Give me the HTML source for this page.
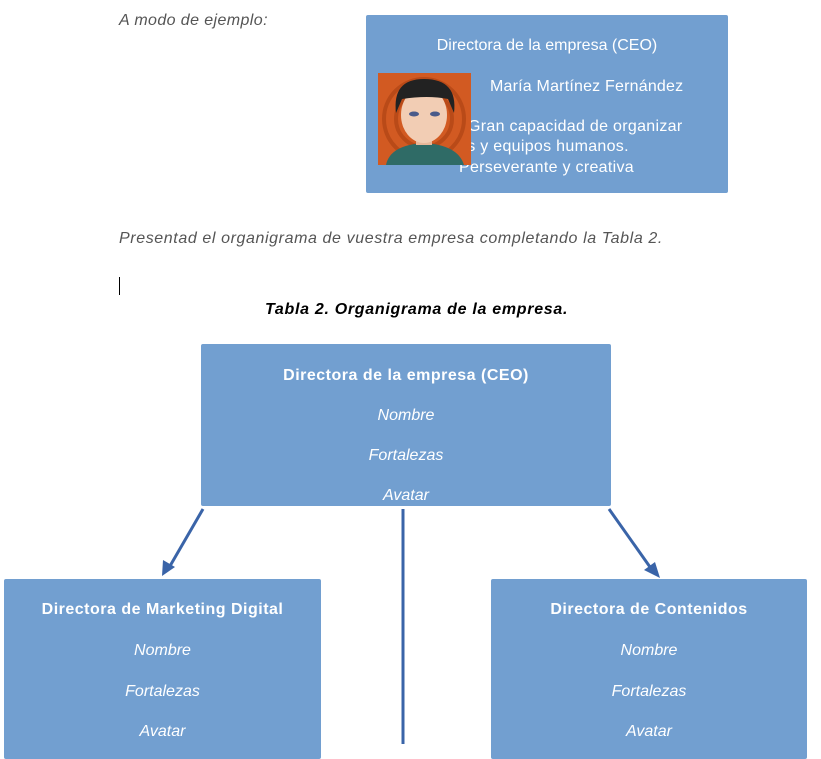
<!DOCTYPE html>
<html><head><meta charset="utf-8"><style>
body{margin:0;width:821px;height:744px;overflow:hidden;background:#fff;position:relative;font-family:"Liberation Sans",sans-serif}
.a{position:absolute;white-space:nowrap}
.box{position:absolute;background:#729fd0;border-radius:2px}
.w{color:#fff;font-size:16px;text-align:center;position:absolute;left:0;right:0}
.i{font-style:italic}
.b{font-weight:bold;letter-spacing:0.5px}
.g{color:#555;font-style:italic;font-size:16px;letter-spacing:0.4px}
</style></head><body>
<div class="a g" style="left:119px;top:12px">A modo de ejemplo:</div>
<div class="box" style="left:366px;top:15px;width:362px;height:178px">
 <div class="w" style="top:22px">Directora de la empresa (CEO)</div>
 <div class="a" style="color:#fff;font-size:16px;left:124px;top:63px;letter-spacing:0.2px">María Martínez Fernández</div>
 <div class="a" style="color:#fff;font-size:16px;left:102px;top:103px;letter-spacing:0.3px">Gran capacidad de organizar</div>
 <div class="a" style="color:#fff;font-size:16px;left:92px;top:123px;letter-spacing:0.3px">as y equipos humanos.</div>
 <div class="a" style="color:#fff;font-size:16px;left:93px;top:144px;letter-spacing:0.3px">Perseverante y creativa</div>
</div>
<svg class="a" style="left:378px;top:73px" width="93" height="92" viewBox="0 0 93 92">
 <rect width="93" height="92" fill="#d25a22"/>
 <circle cx="46" cy="46" r="40" fill="none" stroke="#b94a18" stroke-width="4"/>
 <circle cx="46" cy="46" r="28" fill="none" stroke="#b94a18" stroke-width="4"/>
 <path d="M8 92 Q12 72 46 70 Q80 72 86 92Z" fill="#2f6b66"/>
 <rect x="38" y="58" width="16" height="14" fill="#e8b89a"/>
 <ellipse cx="46" cy="42" rx="23" ry="28" fill="#f2cdb4"/>
 <path d="M18 40 Q14 6 46 6 Q80 6 76 40 L70 26 Q50 22 24 26Z" fill="#222"/>
 <ellipse cx="36" cy="41" rx="5" ry="2.5" fill="#4a5a8a"/>
 <ellipse cx="57" cy="41" rx="5" ry="2.5" fill="#4a5a8a"/>
</svg>
<div class="a g" style="left:119px;top:230px;letter-spacing:0.6px">Presentad el organigrama de vuestra empresa completando la Tabla 2.</div>
<div class="a" style="left:119px;top:277px;width:1px;height:18px;background:#000"></div>
<div class="a b i" style="left:265px;top:301px;font-size:16px;color:#000;letter-spacing:0.7px">Tabla 2. Organigrama de la empresa.</div>
<div class="box" style="left:201px;top:344px;width:410px;height:162px">
 <div class="w b" style="top:23px">Directora de la empresa (CEO)</div>
 <div class="w i" style="top:63px">Nombre</div>
 <div class="w i" style="top:103px">Fortalezas</div>
 <div class="w i" style="top:143px">Avatar</div>
</div>
<svg class="a" style="left:0;top:0" width="821" height="744">
 <line x1="203" y1="509" x2="170" y2="566" stroke="#3a64a8" stroke-width="3"/>
 <path d="M162 576 L163 560 L175 567Z" fill="#3a64a8"/>
 <line x1="609" y1="509" x2="650" y2="567" stroke="#3a64a8" stroke-width="3"/>
 <path d="M660 578 L644 570 L655 562Z" fill="#3a64a8"/>
 <line x1="403" y1="509" x2="403" y2="744" stroke="#3a64a8" stroke-width="3"/>
</svg>
<div class="box" style="left:4px;top:579px;width:317px;height:180px">
 <div class="w b" style="top:22px">Directora de Marketing Digital</div>
 <div class="w i" style="top:63px">Nombre</div>
 <div class="w i" style="top:104px">Fortalezas</div>
 <div class="w i" style="top:144px">Avatar</div>
</div>
<div class="box" style="left:491px;top:579px;width:316px;height:180px">
 <div class="w b" style="top:22px">Directora de Contenidos</div>
 <div class="w i" style="top:63px">Nombre</div>
 <div class="w i" style="top:104px">Fortalezas</div>
 <div class="w i" style="top:144px">Avatar</div>
</div>
</body></html>
